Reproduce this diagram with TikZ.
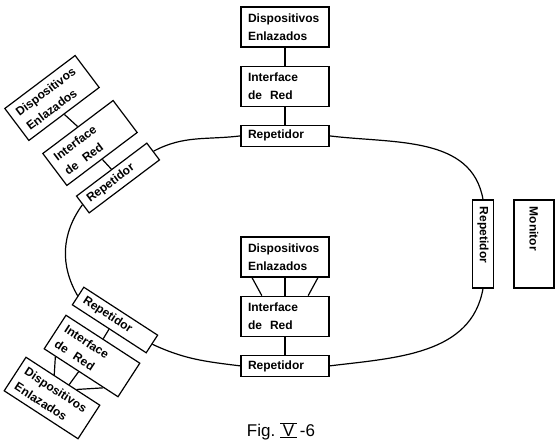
\documentclass[tikz,border=0pt]{standalone}
\usepackage{fontspec}
\setsansfont{Liberation Sans}
\usetikzlibrary{positioning, calc}

\newcommand{\romanfive}{\ensuremath{\overline{\underline{\hbox{\sffamily\,V\,}}}}}

\begin{document}
\begin{tikzpicture}[
    x=1pt, y=1pt,
    line width=1.2pt,
    node distance=18pt,
    box/.style   ={draw, rectangle, align=left, text width=74pt, inner xsep=7pt, inner ysep=3pt,
                   font=\sffamily\bfseries\fontsize{12}{18}\selectfont},
    device/.style={box, minimum height=40pt},
    iface/.style ={box, minimum height=40pt},
    rep/.style   ={box, minimum height=21pt},
    caption/.style={font=\sffamily\fontsize{17}{20}\selectfont},
]
\useasboundingbox (0,0) rectangle (556,441);

% top station
\node[device] (dT) at (285,414) {Dispositivos\\Enlazados};
\node[iface, below=of dT] (iT) {Interface\\de~~Red};
\node[rep,   below=of iT] (rT) {Repetidor};

% station inside the ring
\node[device] (dC) at (285,184) {Dispositivos\\Enlazados};
\node[iface, below=of dC] (iC) {Interface\\de~~Red};
\node[rep,   below=of iC] (rB) {Repetidor};

% right side
\node[rep, rotate=-90] (rR) at (483,197) {Repetidor};
\node[box, rotate=-90, minimum height=40pt] (mon) at (534,197) {Monitor};

% upper left station
\node[device, rotate=37] (dUL) at (52,343) {Dispositivos\\Enlazados};
\node[iface,  rotate=37] (iUL) at (90,298) {Interface\\de~~Red};
\node[rep,    rotate=37] (rUL) at (118,263) {Repetidor};

% lower left station
\node[rep,    rotate=-33] (rLL) at (115,121) {Repetidor};
\node[iface,  rotate=-33] (iLL) at (92,85) {Interface\\de~~Red};
\node[device, rotate=-33] (dLL) at (52,43) {Dispositivos\\Enlazados};

\node[caption] (fig) at (281,10) {Fig.~\romanfive\,-6};

% ring
\draw (rT.west)  to[out=187, in=28]   (rUL.east);
\draw (rUL.west) to[out=234, in=120]  (rLL.west);
\draw (rLL.east) to[out=-25, in=173]  (rB.west);
\draw (rB.east)  to[out=7,   in=-100] (rR.east);
\draw (rR.west)  to[out=100, in=-7]   (rT.east);

% station links
\draw (dT) -- (iT);
\draw (iT) -- (rT);
\draw (dUL.south) -- (iUL.north);
\draw (iUL.south) -- (rUL.north);
\draw (rLL.south) -- (iLL.north);
\draw (iC) -- (rB);

\draw ($(dC.south west)!0.13!(dC.south east)$) -- ($(iC.north west)!0.24!(iC.north east)$);
\draw (dC.south) -- (iC.north);
\draw ($(dC.south west)!0.87!(dC.south east)$) -- ($(iC.north west)!0.76!(iC.north east)$);

\draw ($(iLL.south west)!0.16!(iLL.south east)$) -- ($(dLL.north west)!0.38!(dLL.north east)$);
\draw ($(iLL.south west)!0.47!(iLL.south east)$) -- ($(dLL.north west)!0.58!(dLL.north east)$);
\draw ($(iLL.south west)!0.8!(iLL.south east)$)  -- ($(dLL.north west)!0.68!(dLL.north east)$);

\end{tikzpicture}
\end{document}
